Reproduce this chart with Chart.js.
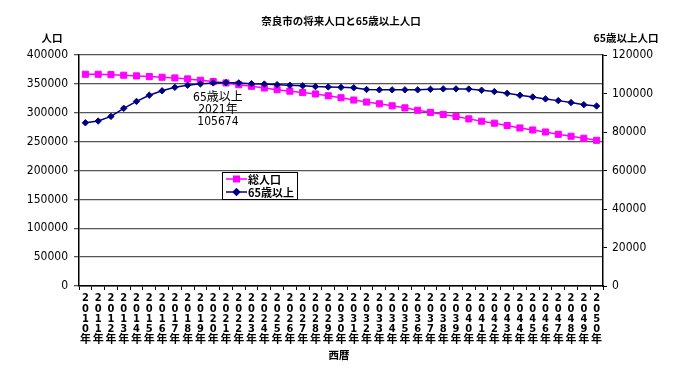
<!DOCTYPE html>
<html lang="ja">
<head>
<meta charset="utf-8">
<title>奈良市の将来人口と65歳以上人口</title>
<script src="https://cdn.jsdelivr.net/npm/chart.js@4/dist/chart.umd.min.js"></script>
<style>
    html, body { margin: 0; padding: 0; background: #ffffff; }
    #wrap { width: 694px; height: 368px; }
</style>
</head>
<body>
<div id="wrap"><canvas id="popChart" width="694" height="368"></canvas></div>
<script>
// Years (x categories)
const years = [
    '2010', '2011', '2012', '2013', '2014', '2015', '2016', '2017', '2018', '2019',
    '2020', '2021', '2022', '2023', '2024', '2025', '2026', '2027', '2028', '2029',
    '2030', '2031', '2032', '2033', '2034', '2035', '2036', '2037', '2038', '2039',
    '2040', '2041', '2042', '2043', '2044', '2045', '2046', '2047', '2048', '2049',
    '2050'
];

// 総人口 (left axis)
const totalPop = [
    366700, 366600, 366000, 365000, 363800, 362600, 361500, 360300, 358600, 356300,
    354000, 351600, 348600, 345800, 342900, 339900, 337400, 335000, 332600, 329400,
    326000, 322000, 318500, 315500, 312000, 308500, 304300, 300700, 297100, 293600,
    289400, 285400, 281900, 277900, 273700, 270200, 266700, 262700, 259300, 255800,
    252300
];

// 65歳以上 (right axis)
const seniorPop = [
    84800, 85700, 88100, 92300, 95900, 99100, 101400, 103200, 104300, 105000,
    105500, 105674, 105500, 105100, 104900, 104600, 104300, 104000, 103600, 103400,
    103200, 103000, 102100, 101900, 101900, 101900, 101900, 102200, 102400, 102400,
    102300, 101700, 101000, 100100, 99100, 98200, 97200, 96300, 95300, 94200,
    93500
];

// Axis ticks
const leftTicks = [0, 50000, 100000, 150000, 200000, 250000, 300000, 350000, 400000];
const rightTicks = [0, 20000, 40000, 60000, 80000, 100000, 120000];

const totalLabel = '総人口';
const seniorLabel = '65歳以上';

const NUM_FONT = '"Liberation Sans Narrow", "Arial Narrow", "DejaVu Sans Condensed", "Noto Sans CJK JP", sans-serif';
const JP_FONT = '"Noto Sans CJK JP", sans-serif';

const PINK = '#ff00ff';
const NAVY = '#000080';

// Titles, annotation and the small legend box are drawn by hand
const overlayPlugin = {
    id: 'overlay',
    afterDraw(chart) {
        const ctx = chart.ctx;
        const xs = chart.scales.x;
        const yr = chart.scales.y1;
        ctx.save();
        ctx.fillStyle = '#000';
        ctx.textAlign = 'center';
        ctx.textBaseline = 'middle';

        ctx.font = 'bold 10.5px ' + JP_FONT;
        ctx.fillText('奈良市の将来人口と65歳以上人口', 341, 21);
        ctx.fillText('人口', 52, 38);
        ctx.fillText('65歳以上人口', 626, 38);
        ctx.fillText('西暦', 339, 355);

        // peak annotation
        const peak = seniorPop.indexOf(Math.max(...seniorPop));
        const ax = xs.getPixelForValue(peak) - 8;
        const ay = yr.getPixelForValue(seniorPop[peak]);
        ctx.font = '12px ' + NUM_FONT;
        ctx.fillText(seniorLabel, ax, ay + 15);
        ctx.fillText(years[peak] + '年', ax, ay + 27);
        ctx.fillText(String(seniorPop[peak]), ax, ay + 39);

        // legend box
        const bx = 222, by = 172, bw = 75, bh = 27;
        ctx.fillStyle = '#fff';
        ctx.fillRect(bx, by, bw, bh);
        ctx.strokeStyle = '#000';
        ctx.lineWidth = 1;
        ctx.strokeRect(bx + 0.5, by + 0.5, bw, bh);

        const rows = [
            { label: totalLabel, color: PINK, style: 'rect', r: 4, y: by + 7 },
            { label: seniorLabel, color: NAVY, style: 'rectRot', r: 3.2, y: by + 20 }
        ];
        rows.forEach(row => {
            ctx.strokeStyle = row.color;
            ctx.lineWidth = 1.5;
            ctx.beginPath();
            ctx.moveTo(bx + 4, row.y);
            ctx.lineTo(bx + 25, row.y);
            ctx.stroke();
            ctx.fillStyle = row.color;
            Chart.helpers.drawPoint(ctx, { pointStyle: row.style, radius: row.r, borderWidth: 1, rotation: 0 }, bx + 14.5, row.y);
            ctx.fillStyle = '#000';
            ctx.textAlign = 'left';
            ctx.font = 'bold 11px ' + JP_FONT;
            ctx.fillText(row.label, bx + 26, row.y + 0.5);
        });
        ctx.restore();
    }
};

new Chart(document.getElementById('popChart'), {
    type: 'line',
    data: {
        labels: years.map(y => [...y.split(''), '年']),
        datasets: [
            {
                label: totalLabel,
                data: totalPop,
                yAxisID: 'y',
                borderColor: PINK,
                backgroundColor: PINK,
                borderWidth: 1.5,
                pointStyle: 'rect',
                pointRadius: 4.3,
                pointBorderWidth: 1,
                pointBackgroundColor: PINK,
                pointBorderColor: PINK,
                tension: 0,
                order: 1
            },
            {
                label: seniorLabel,
                data: seniorPop,
                yAxisID: 'y1',
                borderColor: NAVY,
                backgroundColor: NAVY,
                borderWidth: 1.5,
                pointStyle: 'rectRot',
                pointRadius: 3.2,
                pointBorderWidth: 1,
                pointBackgroundColor: NAVY,
                pointBorderColor: NAVY,
                tension: 0,
                order: 0
            }
        ]
    },
    options: {
        responsive: false,
        animation: false,
        devicePixelRatio: 1,
        layout: { padding: { top: 55, left: 0, right: 0, bottom: 0 } },
        plugins: {
            legend: { display: false },
            title: { display: false },
            tooltip: { enabled: false }
        },
        scales: {
            x: {
                type: 'category',
                offset: true,
                afterFit(scale) { scale.height = 82; },
                grid: {
                    offset: true,
                    drawOnChartArea: false,
                    drawTicks: true,
                    tickLength: 4,
                    color: '#000'
                },
                border: { color: '#000', width: 1.5 },
                ticks: {
                    autoSkip: false,
                    maxRotation: 0,
                    minRotation: 0,
                    padding: 3,
                    color: '#000',
                    font: { family: NUM_FONT, size: 11, weight: 'bold', lineHeight: 0.95 }
                }
            },
            y: {
                position: 'left',
                min: 0,
                max: 400000,
                afterFit(scale) { scale.width = 79; },
                afterBuildTicks(scale) { scale.ticks = leftTicks.map(v => ({ value: v })); },
                grid: { color: '#555', lineWidth: 1.3, tickLength: 5 },
                border: { color: '#000', width: 1.5 },
                ticks: {
                    padding: 6,
                    color: '#000',
                    font: { family: NUM_FONT, size: 12 },
                    callback: v => String(v)
                }
            },
            y1: {
                position: 'right',
                min: 0,
                max: 120000,
                afterFit(scale) { scale.width = 91; },
                afterBuildTicks(scale) { scale.ticks = rightTicks.map(v => ({ value: v })); },
                grid: { drawOnChartArea: false, color: '#000', tickLength: 4 },
                border: { color: '#000', width: 1.5 },
                ticks: {
                    padding: 5,
                    color: '#000',
                    font: { family: NUM_FONT, size: 12 },
                    callback: v => String(v)
                }
            }
        }
    },
    plugins: [overlayPlugin]
});
</script>
</body>
</html>
